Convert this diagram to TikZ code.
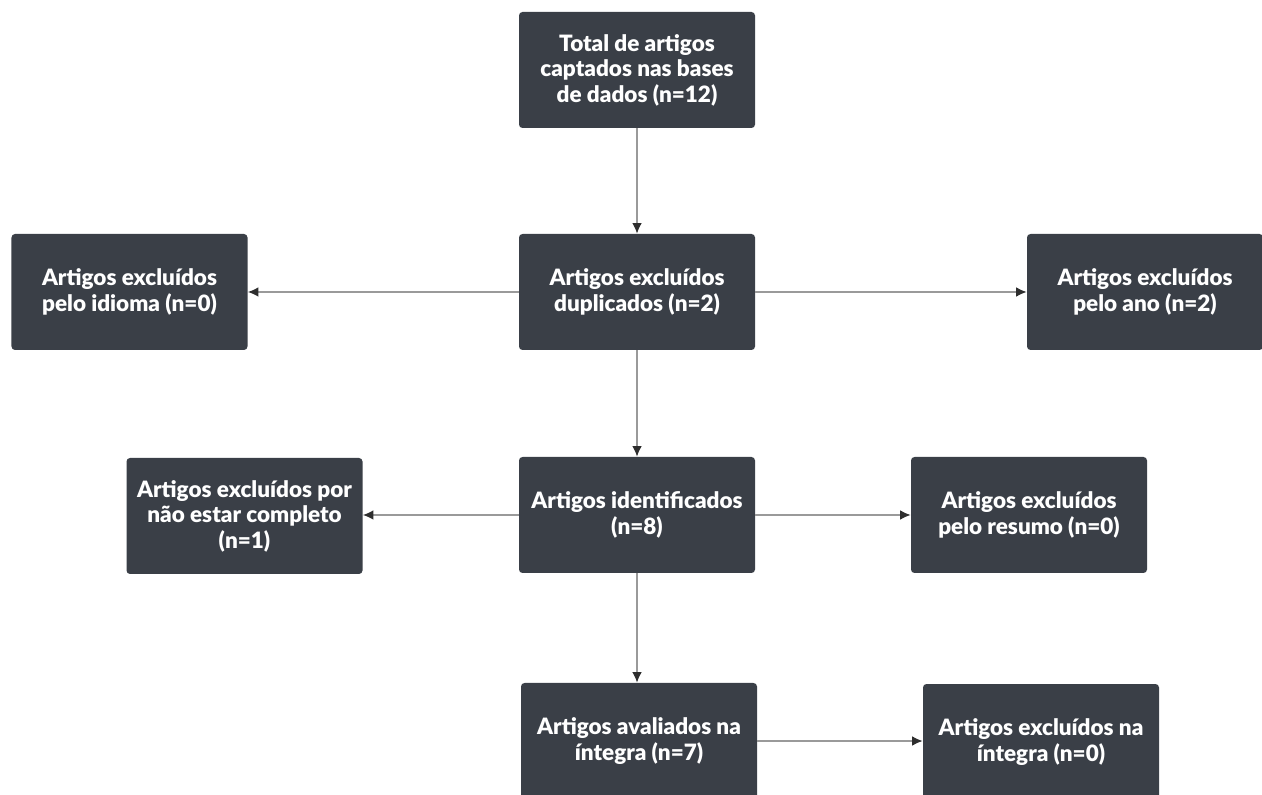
\documentclass[tikz,border=0pt]{standalone}
\usepackage{fontspec}
\setmainfont{Lato}[BoldFont={Lato Black}]
\usepackage{tikz}
\usetikzlibrary{shapes,arrows.meta}
\definecolor{boxgray}{HTML}{3A3F47}
\definecolor{linegray}{HTML}{9A9A9A}
\definecolor{tipgray}{HTML}{2E2E2E}

\begin{document}
\begin{tikzpicture}[
    stepbox/.style={rectangle, rounded corners=2pt, fill=boxgray, text=white,
      minimum width=4.72cm, minimum height=2.32cm, align=center,
      font=\bfseries\fontsize{12.8}{14.5}\selectfont},
    flow/.style={draw=linegray, line width=0.7pt,
      -{Latex[length=2.1mm, width=1.9mm, color=tipgray]}}]
  \useasboundingbox (0,0) rectangle (25.24,15.88);
  %% Boksene i midten
    \node[stepbox] (total) at (12.74,14.48) {Total de artigos\\captados nas bases\\de dados (n=12)};
    \node[stepbox] (dup) at (12.74,10.04) {Artigos excluídos\\duplicados (n=2)};
    \node[stepbox] (ident) at (12.74,5.58) {Artigos identificados\\(n=8)};
    \node[stepbox] (aval) at (12.78,1.06) {Artigos avaliados na\\íntegra (n=7)};

  %% Boksene på sidene
    \node[stepbox] (idioma) at (2.59,10.04) {Artigos excluídos\\pelo idioma (n=0)};
    \node[stepbox] (ano) at (22.90,10.04) {Artigos excluídos\\pelo ano (n=2)};
    \node[stepbox] (completo) at (4.89,5.56) {Artigos excluídos por\\não estar completo\\(n=1)};
    \node[stepbox] (resumo) at (20.58,5.58) {Artigos excluídos\\pelo resumo (n=0)};
    \node[stepbox] (exclint) at (20.82,1.04) {Artigos excluídos na\\íntegra (n=0)};

  %% Pilene
    \draw[flow] (total) -- (dup);
    \draw[flow] (dup) -- (ident);
    \draw[flow] (ident) -- (aval.north -| ident);
    \draw[flow] (dup) -- (idioma);
    \draw[flow] (dup) -- (ano);
    \draw[flow] (ident) -- (completo.east |- ident);
    \draw[flow] (ident) -- (resumo);
    \draw[flow] (aval) -- (exclint.west |- aval);
  \end{tikzpicture}
\end{document}
